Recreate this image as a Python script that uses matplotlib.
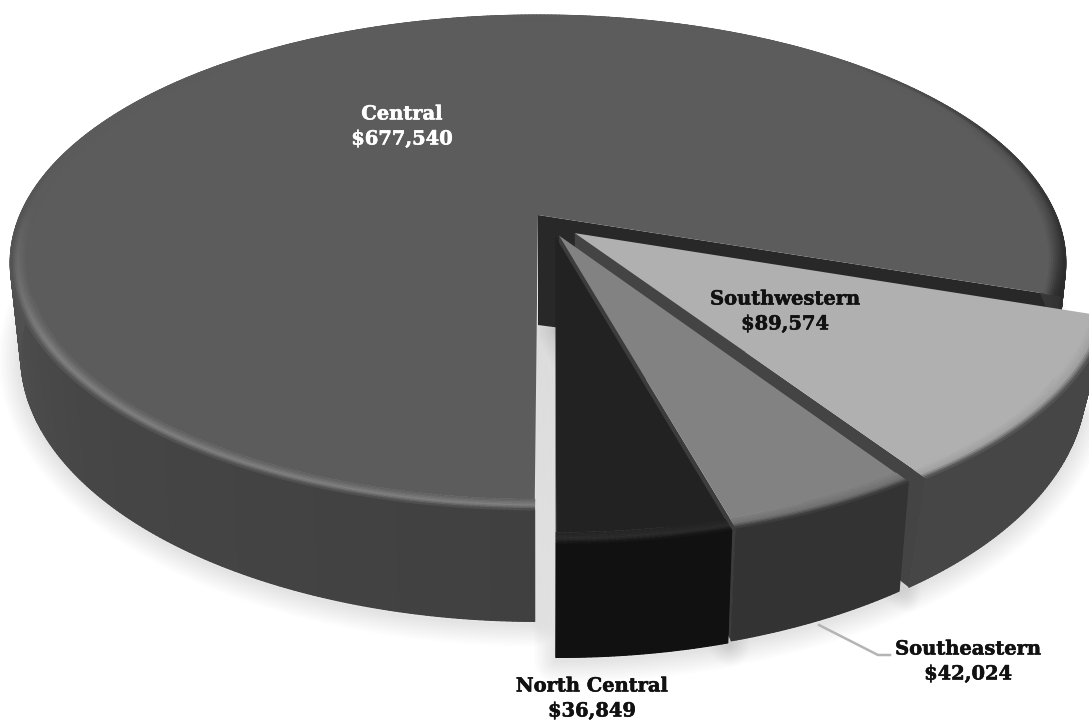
import numpy as np
import matplotlib
matplotlib.use('Agg')
import matplotlib.pyplot as plt
from matplotlib.collections import PolyCollection
import matplotlib.patheffects as pe

# Sales by region
regions = ['Central', 'Southwestern', 'Southeastern', 'North Central']
sales = [677540, 89574, 42024, 36849]

# Perspective of the disc, in pixels
X0, Y0 = 538, 215
A, B, K = 518, 238.4, 0.192
LOW_DEPTH = 90

# Slice styles: top face, bevel peak, wall, cut wall, explode vector, base shrink
faces = ['#5c5c5c', '#b0b0b0', '#828282', '#222222']
peaks = ['#7c7c7c', '#a0a0a0', '#707070', '#2a2a2a']
walls = ['#444444', '#464646', '#333333', '#111111']
cuts = ['#282828', '#444444', '#3c3c3c', '#222222']
explode = [(0, 0), (0.07, -0.075), (0.04, -0.085), (0.033, -0.09)]
shrink = [0.98, 0.955, 0.975, 0.98]

label_xy = [(402, 127), (785, 312), (968, 662), (592, 699)]
label_color = ['white', '#111111', '#111111', '#111111']


def top(u, v):
    w = 1 + K * v
    return X0 + A * u / w, Y0 - B * v / w


def make_low(scale):
    def low(u, v):
        w = 1 + K * v
        return X0 + scale * A * u / w, Y0 - B * v / w + LOW_DEPTH / w
    return low


def grey(g):
    g = np.clip(g, 0, 1)
    return (g, g, g)


def to_grey(c):
    return matplotlib.colors.to_rgb(c)[0]


def arc_pts(fn, a0, a1, off, r=1.0, n=None):
    n = n or max(int(abs(a1 - a0) * 2), 6)
    th = np.radians(np.linspace(a0, a1, n))
    return np.column_stack(fn(r * np.sin(th) + off[0], r * np.cos(th) + off[1]))


def wall_shade(i, th):
    base = to_grey(walls[i])
    if i != 0:
        return base
    # the big slice catches some light round the left side
    return np.interp(th, [180, 230, 275, 360, 440, 470],
                     [0x40 / 255, 0x46 / 255, 0x54 / 255, 0x48 / 255, 0x3c / 255, 0x2c / 255])


def peak_shade(i, th):
    if i != 0:
        return to_grey(peaks[i])
    return np.interp(th, [180, 240, 272, 420, 450, 470],
                     [0x80 / 255, 0x80 / 255, 0x5c / 255, 0x5c / 255, 0x48 / 255, 0x30 / 255])


def rim_shade(i, th):
    # the far rim of the big slice has no dark edge
    if i != 0:
        return to_grey(walls[i])
    return np.interp(th, [180, 262, 290, 400, 430, 470],
                     [0x44 / 255, 0x50 / 255, 0x5c / 255, 0x5c / 255, 0x38 / 255, 0x28 / 255])


fig = plt.figure(figsize=(10.89, 7.24), dpi=100)
ax = fig.add_axes([0, 0, 1, 1])
ax.set_xlim(0, 1089)
ax.set_ylim(724, 0)
ax.axis('off')

total = sum(sales)
spans = [s / total * 360 for s in sales]
starts = 180.3 + np.concatenate([[0], np.cumsum(spans)[:-1]])

# soft shadow under the pie
for i in range(4):
    a0, a1 = starts[i], starts[i] + spans[i]
    off = explode[i]
    low = make_low(shrink[i])
    pts = np.vstack([low(off[0], off[1]), arc_pts(low, a0, a1, off)]) + [0, 3]
    for lw in np.linspace(44, 2, 14):
        ax.fill(pts[:, 0], pts[:, 1], facecolor='none', edgecolor='black', alpha=0.008,
                linewidth=lw * 0.72, joinstyle='round', zorder=1)

for i in range(4):
    a0, a1 = starts[i], starts[i] + spans[i]
    off = explode[i]
    low = make_low(shrink[i])
    z = 2 + i

    # cut wall on the clockwise side, the central apex wall reaches further down
    ax_top = top(off[0], off[1])
    ax_low = (ax_top[0], ax_top[1] + 110 if i == 0 else ax_top[1] + 90)
    t = np.radians(a1)
    u, v = np.sin(t) + off[0], np.cos(t) + off[1]
    ax.fill([ax_top[0], top(u, v)[0], low(u, v)[0], ax_low[0]],
            [ax_top[1], top(u, v)[1], low(u, v)[1], ax_low[1]],
            color=cuts[i], linewidth=0, zorder=z)

    # outer wall, one quad per step so the shade can vary
    th = np.linspace(a0, a1, max(int(spans[i] * 2), 8))
    tu = arc_pts(top, a0, a1, off, n=len(th))
    lo = arc_pts(low, a0, a1, off, n=len(th))
    ring = np.vstack([tu, lo[::-1]])
    ax.fill(ring[:, 0], ring[:, 1], color=grey(wall_shade(i, th[len(th) // 2])), linewidth=0, zorder=z + 0.05)
    quads = [[tu[k], tu[k + 1], lo[k + 1], lo[k]] for k in range(len(th) - 1)]
    cols = [grey(wall_shade(i, t)) for t in th[:-1]]
    ax.add_collection(PolyCollection(quads, facecolors=cols, edgecolors=cols, linewidths=0.8, zorder=z + 0.1))

    # top face, then the bevel bands round the rim
    inner = 0.97
    face_pts = np.vstack([ax_top, arc_pts(top, a0, a1, off, r=inner)])
    ax.fill(face_pts[:, 0], face_pts[:, 1], color=faces[i], linewidth=0, zorder=z + 0.2)
    radii = np.linspace(inner, 1.0, 9)
    quads, cols = [], []
    for j in range(len(radii) - 1):
        f = (j + 0.5) / (len(radii) - 1)
        p0 = arc_pts(top, a0, a1, off, r=radii[j], n=len(th))
        p1 = arc_pts(top, a0, a1, off, r=radii[j + 1], n=len(th))
        for k in range(len(th) - 1):
            face = to_grey(faces[i])
            peak = peak_shade(i, th[k])
            rim = rim_shade(i, th[k])
            if f < 0.6:
                g = face + (peak - face) * f / 0.6
            else:
                g = peak + (rim - peak) * (f - 0.6) / 0.4
            quads.append([p0[k], p0[k + 1], p1[k + 1], p1[k]])
            cols.append(grey(g))
    ax.add_collection(PolyCollection(quads, facecolors=cols, edgecolors=cols, linewidths=0.6, zorder=z + 0.3))

# leader line for the small slice
ax.plot([819, 878, 890], [625, 655, 655], color='#b4b4b4', linewidth=1.8, zorder=10)

for name, val, xy, c in zip(regions, sales, label_xy, label_color):
    txt = ax.text(xy[0], xy[1], f'{name}\n${val:,}', ha='center', va='center', color=c,
                  family='DejaVu Serif', fontweight='bold', fontsize=14, linespacing=1.5, zorder=11)
    txt.set_path_effects([pe.withStroke(linewidth=0.4, foreground=c)])

fig.savefig('out.png', dpi=100, facecolor='white')
